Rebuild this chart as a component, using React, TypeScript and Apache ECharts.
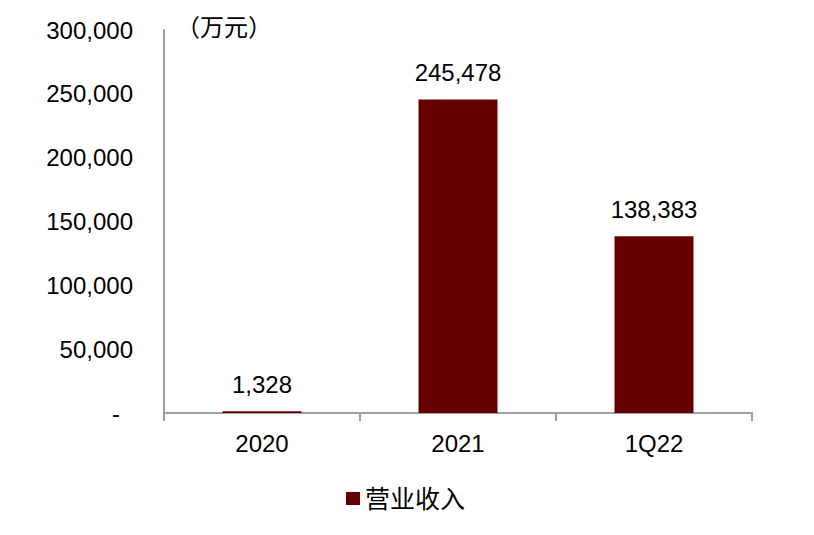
import React, { useEffect, useRef } from 'react';
import * as echarts from 'echarts';

const categories = ['2020', '2021', '1Q22'];
const revenue = [1328, 245478, 138383];
const yTicks = [0, 50000, 100000, 150000, 200000, 250000, 300000];

const FONT = '"Liberation Sans", Arial, "Noto Sans CJK SC", sans-serif';
const AXIS_COLOR = '#a0a0a0';

const fmt = (v: number) => (v === 0 ? '-' : v.toLocaleString('en-US'));

const App = () => {
  const chartRef = useRef<HTMLDivElement>(null);

  useEffect(() => {
    document.body.style.margin = '0';
    const chart = echarts.init(chartRef.current, null, { renderer: 'svg' });

    const option = {
      animation: false,
      backgroundColor: '#fff',
      textStyle: { fontFamily: FONT },
      grid: { left: 164, right: 62, top: 30, bottom: 122 },
      graphic: [
        {
          type: 'text',
          left: 176,
          top: 15,
          style: { text: '（万元）', fontSize: 24, fontFamily: FONT, fill: '#000' },
        },
      ],
      legend: {
        data: ['营业收入'],
        bottom: 19,
        left: 341,
        itemWidth: 14,
        itemHeight: 13,
        itemGap: 5,
        icon: 'rect',
        textStyle: { fontSize: 25, color: '#000', fontFamily: FONT },
      },
      xAxis: {
        type: 'category',
        data: categories,
        axisLine: { lineStyle: { color: AXIS_COLOR, width: 2 } },
        axisTick: { show: true, length: 8, lineStyle: { color: AXIS_COLOR, width: 2 } },
        axisLabel: { fontSize: 24, color: '#000', margin: 18, fontFamily: FONT },
      },
      yAxis: {
        type: 'value',
        min: yTicks[0],
        max: yTicks[yTicks.length - 1],
        interval: yTicks[1] - yTicks[0],
        axisLine: { show: true, lineStyle: { color: AXIS_COLOR, width: 2 } },
        axisTick: { show: false },
        splitLine: { show: false },
        axisLabel: {
          fontSize: 24,
          color: '#000',
          margin: 31,
          fontFamily: FONT,
          formatter: (v: number) => (v === 0 ? '{dash|-}' : fmt(v)),
          rich: {
            dash: { fontSize: 24, color: '#000', fontFamily: FONT, padding: [0, 13, 0, 0] },
          },
        },
      },
      series: [
        {
          name: '营业收入',
          type: 'bar',
          data: revenue,
          barWidth: 79,
          itemStyle: { color: '#660000' },
          label: {
            show: true,
            position: 'top',
            distance: 15,
            fontSize: 24,
            color: '#000',
            fontFamily: FONT,
            formatter: (p: any) => fmt(p.value),
          },
        },
      ],
    };

    chart.setOption(option);
    return () => {
      chart.dispose();
    };
  }, []);

  return <div ref={chartRef} style={{ width: '814px', height: '535px' }} />;
};

export default App;
